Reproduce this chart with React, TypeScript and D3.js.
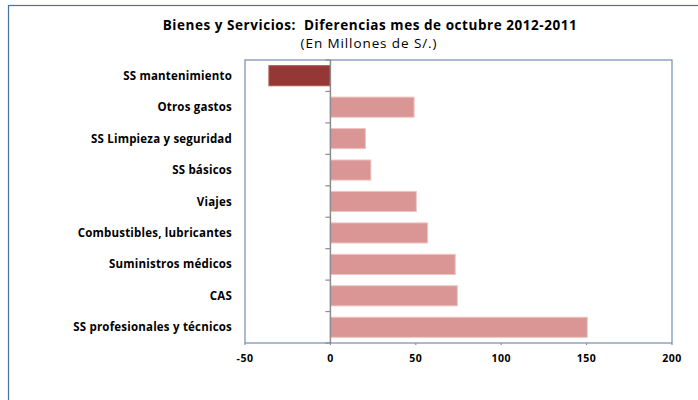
import React from "react";
import * as d3 from "d3";

const categories = [
  "SS mantenimiento",
  "Otros gastos",
  "SS Limpieza y seguridad",
  "SS básicos",
  "Viajes",
  "Combustibles, lubricantes",
  "Suministros médicos",
  "CAS",
  "SS profesionales y técnicos",
];
const values = [-36, 49, 20.5, 23.7, 50.3, 56.9, 73.1, 74.3, 150.4];
const xTicks = [-50, 0, 50, 100, 150, 200];
const title = "Bienes y Servicios:  Diferencias mes de octubre 2012-2011";
const subtitle = "(En Millones de S/.)";

const W = 698;
const H = 400;
const plot = { left: 245, right: 672, top: 60, bottom: 343 };
const FONT = "'Open Sans', Lato, sans-serif";

export default function App() {
  const x = d3.scaleLinear().domain([-50, 200]).range([plot.left, plot.right]);
  const y = d3
    .scaleBand<string>()
    .domain(categories)
    .range([plot.top, plot.bottom])
    .paddingInner(0.36)
    .paddingOuter(0.18);
  const x0 = x(0);
  const boundaries = d3
    .range(categories.length + 1)
    .map((i) => plot.top + i * ((plot.bottom - plot.top) / categories.length));

  return (
    <svg
      width={W}
      height={H}
      style={{ position: "absolute", left: 0, top: 0, background: "#fff" }}
    >
      <rect x={0} y={0} width={W} height={H} fill="#fff" />
      <rect x={8.5} y={5.5} width={W + 10} height={H + 10} fill="none" stroke="#4a6fa5" strokeWidth={1.2} />
      <text
        x={370}
        y={30}
        textAnchor="middle"
        fontFamily={FONT}
        fontWeight="bold"
        fontSize={13.5}
        fill="#000"
        style={{ whiteSpace: "pre" }}
        letterSpacing={0.55}
      >
        {title}
      </text>
      <text x={369} y={48} textAnchor="middle" fontFamily={FONT} fontSize={13.5} letterSpacing={0.9} fill="#000">
        {subtitle}
      </text>
      <rect
        x={plot.left}
        y={plot.top}
        width={plot.right - plot.left}
        height={plot.bottom - plot.top}
        fill="#fff"
        stroke="#7f95b8"
        strokeWidth={1.3}
      />
      {categories.map((c, i) => {
        const v = values[i];
        const xa = Math.min(x(0), x(v));
        const w = Math.abs(x(v) - x(0));
        return (
          <rect
            key={c}
            x={xa}
            y={y(c)!}
            width={w}
            height={y.bandwidth()}
            fill={v < 0 ? "#953735" : "#d99694"}
            stroke={v < 0 ? "#b05855" : "#eec4c2"}
            strokeWidth={1}
          />
        );
      })}
      <line x1={x0} x2={x0} y1={plot.top} y2={plot.bottom} stroke="#8c8c8c" strokeWidth={1.5} />
      {boundaries.map((b, i) => (
        <line key={i} x1={x0 - 5} x2={x0} y1={b} y2={b} stroke="#8c8c8c" strokeWidth={1.2} />
      ))}
      {categories.map((c) => (
        <text
          key={c}
          x={232}
          y={y(c)! + y.bandwidth() / 2}
          dy="0.35em"
          textAnchor="end"
          fontFamily={FONT}
          fontWeight="bold"
          fontSize={11.5}
          letterSpacing={0.2}
          fill="#000"
        >
          {c}
        </text>
      ))}
      {xTicks.map((t) => (
        <g key={t}>
          <line x1={x(t)} x2={x(t)} y1={plot.bottom} y2={plot.bottom + 2} stroke="#7f95b8" strokeWidth={1.2} />
          <text
            x={x(t)}
            y={362}
            textAnchor="middle"
            fontFamily={FONT}
            fontWeight="bold"
            fontSize={10.5}
            letterSpacing={0.5}
            fill="#000"
          >
            {t}
          </text>
        </g>
      ))}
    </svg>
  );
}
